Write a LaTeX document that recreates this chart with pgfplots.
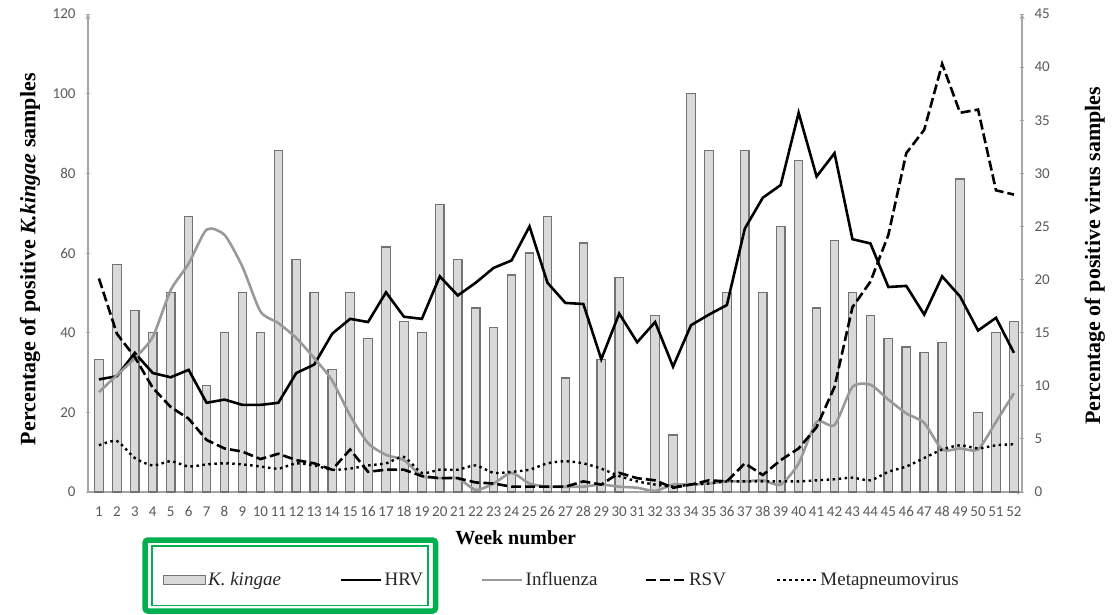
\documentclass[border=0pt]{standalone}
\usepackage{pgfplots}
\pgfplotsset{compat=1.18}
\usepackage{fontspec}
\setmainfont{Liberation Serif}
\newfontfamily\tickfont{Carlito}

\definecolor{barfill}{HTML}{D9D9D9}
\definecolor{bardraw}{HTML}{737373}
\definecolor{axisgray}{HTML}{A6A6A6}
\definecolor{ticktext}{HTML}{595959}
\definecolor{flugray}{HTML}{999999}
\definecolor{boxgreen}{HTML}{00B050}

\tikzset{boldlabel/.style={font=\fontsize{22}{26}\selectfont\bfseries}}

\pgfplotsset{
  chartbase/.style={
    scale only axis, width=934pt, height=478pt,
    at={(0pt,0pt)}, anchor=south west,
    xmin=0.39, xmax=52.45, ymin=0,
    tick align=outside,
    /pgf/number format/assume math mode=true,
    ticklabel style={font=\tickfont\fontsize{15}{18}\selectfont, text=ticktext},
    axis line style={draw=axisgray, line width=1.3pt},
    x axis line style={-}, y axis line style={-},
    tick style={draw=axisgray, line width=1pt},
    major tick length=4pt,
  },
}

\begin{document}
\begin{tikzpicture}
\useasboundingbox (-88pt,-122pt) rectangle (1026pt,492pt);

% K. kingae share of positive samples per week (left axis)
\begin{axis}[chartbase,
  axis x line=bottom, axis y line=left,
  ymax=120, ytick={0,20,...,120},
  yticklabel style={xshift=-7pt},
  xtick={1,...,52}, x tick style={draw=none},
  xticklabel style={yshift=-9pt},
  xlabel={Week number},
  xlabel style={at={(axis description cs:0.458,-0.096)}, anchor=center,
                font=\fontsize{20}{24}\selectfont\bfseries},
  ylabel={Percentage of positive \textit{K.kingae} samples},
  ylabel style={boldlabel, at={(axis description cs:-0.062,0.487)}, anchor=center},
]
\addplot[ybar, bar width=8.5pt, fill=barfill, draw=bardraw, line width=1.2pt]
coordinates {
(1,33.3) (2,57.1) (3,45.5) (4,40) (5,50) (6,69.2) (7,26.7) (8,40) (9,50) (10,40)
(11,85.7) (12,58.3) (13,50) (14,30.8) (15,50) (16,38.5) (17,61.5) (18,42.9) (19,40) (20,72.2)
(21,58.3) (22,46.2) (23,41.2) (24,54.5) (25,60) (26,69.2) (27,28.6) (28,62.5) (29,33.3) (30,53.8)
(32,44.4) (33,14.3) (34,100) (35,85.7) (36,50) (37,85.7) (38,50) (39,66.7) (40,83.3)
(41,46.2) (42,63.2) (43,50) (44,44.4) (45,38.5) (46,36.4) (47,35) (48,37.5) (49,78.6) (50,20)
(51,40) (52,42.9)
};
\end{axis}

% Virus positivity per week (right axis)
\begin{axis}[chartbase,
  axis x line=none, axis y line=right,
  xtick=\empty,
  ymax=45, ytick={0,5,...,45},
  yticklabel style={xshift=7pt},
  ylabel={Percentage of positive virus samples},
  ylabel style={boldlabel, at={(axis description cs:1.078,0.494)}, anchor=center},
  legend image code/.code={\draw[#1] (0pt,0pt) -- (40pt,0pt);},
  legend style={at={(axis description cs:0.080,-0.184)}, anchor=west,
    draw=none, fill=none, inner sep=0pt,
    font=\fontsize{19}{22}\selectfont, text=black!85,
    /tikz/every odd column/.style={column sep=0pt},
    /tikz/column 2/.style={column sep=57pt},
    /tikz/column 4/.style={column sep=56pt},
    /tikz/column 6/.style={column sep=45pt},
    /tikz/column 8/.style={column sep=48pt}},
  legend columns=5,
]
\addlegendimage{legend image code/.code={%
  \draw[fill=barfill, draw=bardraw, line width=1.2pt] (0pt,-4.5pt) rectangle (42pt,4.5pt);}}
\addlegendentry{\textit{K. kingae}}

\addplot[black, line width=2.6pt] coordinates {
(1,10.6) (2,10.9) (3,13.1) (4,11.2) (5,10.8) (6,11.5) (7,8.4) (8,8.7) (9,8.2) (10,8.2)
(11,8.4) (12,11.2) (13,12.0) (14,14.9) (15,16.3) (16,16.0) (17,18.8) (18,16.5) (19,16.3) (20,20.3)
(21,18.5) (22,19.7) (23,21.1) (24,21.8) (25,25.0) (26,19.7) (27,17.8) (28,17.7) (29,12.5) (30,16.8)
(31,14.1) (32,16.0) (33,11.8) (34,15.7) (35,16.7) (36,17.6) (37,24.8) (38,27.7) (39,28.9) (40,35.7)
(41,29.7) (42,31.9) (43,23.8) (44,23.4) (45,19.3) (46,19.4) (47,16.7) (48,20.3) (49,18.4) (50,15.2)
(51,16.4) (52,13.1)
};
\addlegendentry{HRV}

\addplot[flugray, line width=2.6pt, smooth, tension=0.4] coordinates {
(1,9.4) (2,11.0) (3,12.6) (4,14.6) (5,19.0) (6,21.5) (7,24.7) (8,24.2) (9,21.2) (10,17.0)
(11,15.9) (12,14.5) (13,12.6) (14,10.5) (15,7.2) (16,4.6) (17,3.5) (18,3.0) (19,1.5) (20,1.3)
(21,1.3) (22,0.2) (23,0.8) (24,1.8) (25,0.8) (26,0.5) (27,0.5) (28,0.5) (29,0.7) (30,0.5)
(31,0.4) (32,0.1) (33,0.7) (34,0.7) (35,0.8) (36,1.0) (37,1.0) (38,1.1) (39,0.7) (40,2.7)
(41,6.6) (42,6.3) (43,9.9) (44,10.1) (45,8.7) (46,7.4) (47,6.5) (48,4.0) (49,4.1) (50,4.0)
(51,6.6) (52,9.3)
};
\addlegendentry{Influenza}

\addplot[black, line width=2.6pt, dash pattern=on 10pt off 4pt] coordinates {
(1,20.1) (2,14.9) (3,12.7) (4,9.8) (5,8.0) (6,6.9) (7,4.9) (8,4.1) (9,3.8) (10,3.1)
(11,3.6) (12,3.0) (13,2.7) (14,2.1) (15,4.0) (16,1.9) (17,2.1) (18,2.1) (19,1.5) (20,1.3)
(21,1.3) (22,0.9) (23,0.8) (24,0.5) (25,0.5) (26,0.5) (27,0.5) (28,1.0) (29,0.7) (30,1.8)
(31,1.3) (32,1.1) (33,0.4) (34,0.7) (35,1.1) (36,1.0) (37,2.7) (38,1.6) (39,3.0) (40,4.1)
(41,6.1) (42,9.9) (43,17.4) (44,19.8) (45,24.2) (46,31.9) (47,34.1) (48,40.3) (49,35.7) (50,36.0)
(51,28.4) (52,28.0)
};
\addlegendentry{RSV}

\addplot[black, line width=2.4pt, dash pattern=on 2.5pt off 3.5pt, smooth, tension=0.4] coordinates {
(1,4.4) (2,4.8) (3,3.2) (4,2.5) (5,2.9) (6,2.4) (7,2.6) (8,2.7) (9,2.6) (10,2.4)
(11,2.2) (12,2.7) (13,2.5) (14,2.1) (15,2.2) (16,2.5) (17,2.7) (18,3.3) (19,1.8) (20,2.1)
(21,2.1) (22,2.5) (23,1.8) (24,1.9) (25,2.1) (26,2.7) (27,2.9) (28,2.7) (29,2.2) (30,1.5)
(31,1.0) (32,0.7) (33,0.5) (34,0.7) (35,0.8) (36,1.0) (37,1.0) (38,1.0) (39,1.0) (40,1.0)
(41,1.1) (42,1.2) (43,1.35) (44,1.1) (45,1.9) (46,2.4) (47,3.2) (48,4.0) (49,4.4) (50,4.1)
(51,4.4) (52,4.5)
};
\addlegendentry{Metapneumovirus}
\end{axis}

% highlight frame round the first two legend entries
\draw[boxgreen, line width=5.5pt, rounded corners=3pt] (57pt,-48pt) rectangle (347.5pt,-119pt);
\draw[boxgreen, line width=1.5pt] (64pt,-54pt) rectangle (340pt,-113.5pt);
\end{tikzpicture}
\end{document}
